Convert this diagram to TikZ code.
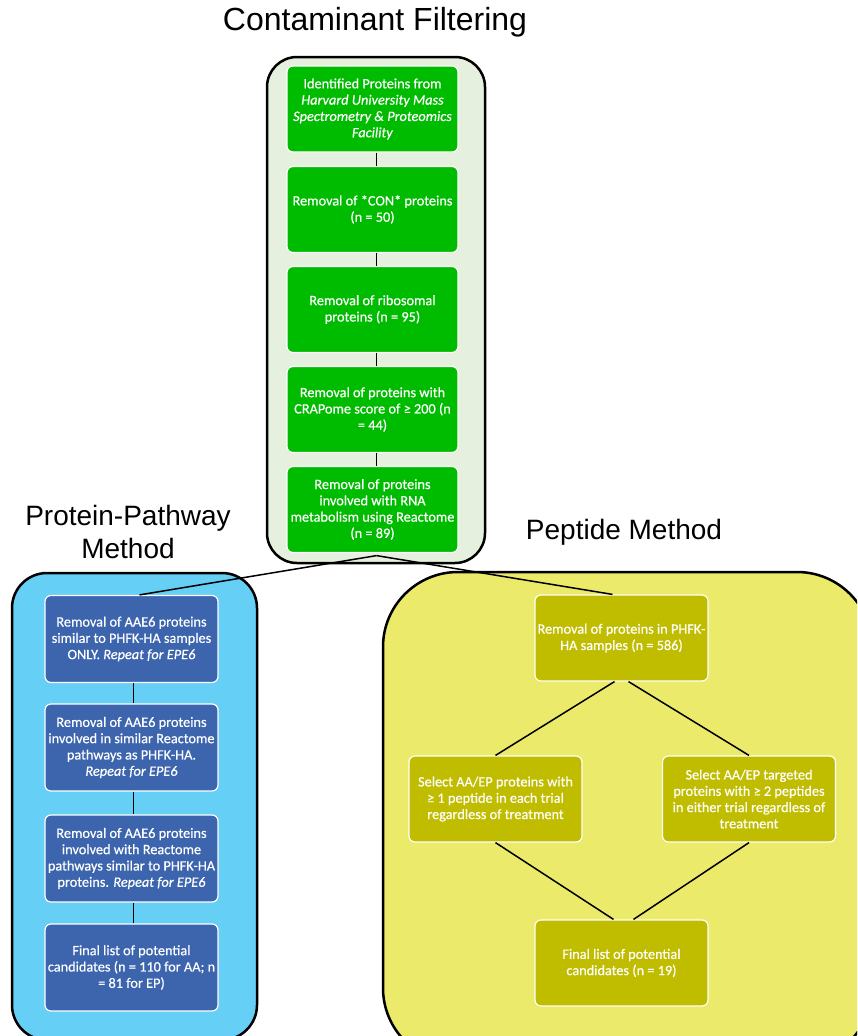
\documentclass[tikz,border=0pt]{standalone}
\usepackage{fontspec}
\setmainfont{Carlito}
\newfontfamily\boxfont{Carlito}[FakeBold=0.5]
\newfontfamily\titlefont{Liberation Sans}
\usetikzlibrary{calc}
\definecolor{gframe}{RGB}{230,240,222}
\definecolor{gfill}{RGB}{0,188,0}
\definecolor{bframe}{RGB}{102,207,246}
\definecolor{bfill}{RGB}{60,101,174}
\definecolor{yframe}{RGB}{235,234,106}
\definecolor{yfill}{RGB}{192,189,0}
\begin{document}
\begin{tikzpicture}[x=1pt,y=-1pt,
  frame/.style={draw=black, line width=2.5pt},
  innerbox/.style={draw=white, line width=1.2pt, rounded corners=6pt, text=white,
    align=center, inner sep=0pt, minimum width=173pt, minimum height=86pt,
    font=\boxfont\fontsize{14.3}{16.3}\selectfont},
  gbox/.style={innerbox, fill=gfill, minimum width=171pt},
  bbox/.style={innerbox, fill=bfill, minimum height=87pt},
  ybox/.style={innerbox, fill=yfill},
  link/.style={draw=black, line width=1.5pt},
  title/.style={font=\titlefont\fontsize{28}{33}\selectfont, align=center, inner sep=0pt}
]
\useasboundingbox (0,0) rectangle (857,1036);
\clip (0,0) rectangle (857,1036);
\fill[white] (0,0) rectangle (857,1036);

% titles
\node[title, font=\titlefont\fontsize{32}{36}\selectfont] (t1) at (375,22) {Contaminant Filtering};
\node[title] (t2) at (128,532) {Protein-Pathway\\Method};
\node[title] (t3) at (624,532) {Peptide Method};

% frames
\draw[frame, fill=gframe, rounded corners=30pt] (267,57) rectangle (485,563);
\draw[frame, fill=bframe, rounded corners=35pt] (12,573) rectangle (257,1040);
\draw[frame, fill=yframe, rounded corners=75pt] (383,572) rectangle (872,1063);

% green column
\node[gbox] (g1) at (372.5,109) {Identified Proteins from\\\textit{Harvard University Mass}\\\textit{Spectrometry \& Proteomics}\\\textit{Facility}};
\node[gbox] (g2) at (372.5,209.5) {Removal of *CON* proteins\\(n = 50)};
\node[gbox] (g3) at (372.5,309.5) {Removal of ribosomal\\proteins (n = 95)};
\node[gbox] (g4) at (372.5,409.5) {Removal of proteins with\\CRAPome score of ≥ 200 (n\\= 44)};
\node[gbox] (g5) at (372.5,509.5) {Removal of proteins\\involved with RNA\\metabolism using Reactome\\(n = 89)};

\foreach \a/\b in {g1/g2,g2/g3,g3/g4,g4/g5}
  \draw[link] ([xshift=4pt]\a.south) -- ([xshift=4pt]\b.north);

% blue column
\node[bbox] (b1) at (131.5,639) {Removal of AAE6 proteins\\similar to PHFK-HA samples\\ONLY. \textit{Repeat for EPE6}};
\node[bbox] (b2) at (131.5,747.5) {Removal of AAE6 proteins\\involved in similar Reactome\\pathways as PHFK-HA.\\\textit{Repeat for EPE6}};
\node[bbox] (b3) at (131.5,858.5) {Removal of AAE6 proteins\\involved with Reactome\\pathways similar to PHFK-HA\\proteins. \textit{Repeat for EPE6}};
\node[bbox] (b4) at (131.5,967.5) {Final list of potential\\candidates (n = 110 for AA; n\\= 81 for EP)};

\foreach \a/\b in {b1/b2,b2/b3,b3/b4}
  \draw[link] ([xshift=2pt]\a.south) -- ([xshift=2pt]\b.north);

% yellow diamond
\node[ybox] (y1) at (621.5,638) {Removal of proteins in PHFK-\\HA samples (n = 586)};
\node[ybox] (y2) at (495.5,799) {Select AA/EP proteins with\\≥ 1 peptide in each trial\\regardless of treatment};
\node[ybox] (y3) at (749,799) {Select AA/EP targeted\\proteins with ≥ 2 peptides\\in either trial regardless of\\treatment};
\node[ybox] (y4) at (621.5,963) {Final list of potential\\candidates (n = 19)};

\draw[link] ([xshift=-7pt]y1.south) -- (y2.north);
\draw[link] ([xshift=7pt]y1.south) -- (y3.north);
\draw[link] (y2.south) -- ([xshift=-8pt]y4.north);
\draw[link] (y3.south) -- ([xshift=12pt]y4.north);

% links from contaminant filtering
\coordinate (apex) at ([xshift=4pt,yshift=-2.5pt]g5.south);
\draw[link] (apex) -- ([xshift=8pt]b1.north);
\draw[link] (apex) -- ([xshift=-9pt]y1.north);
\end{tikzpicture}
\end{document}
